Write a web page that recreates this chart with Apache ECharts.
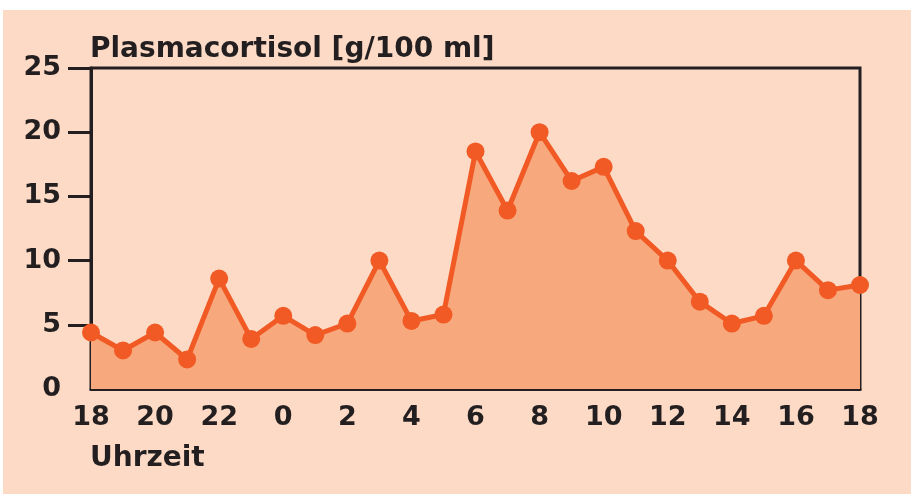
<!DOCTYPE html>
<html>
<head>
<meta charset="utf-8">
<script src="https://cdn.jsdelivr.net/npm/echarts@6/dist/echarts.min.js"></script>
<style>
  html, body { margin: 0; padding: 0; background: #ffffff; }
  #chart { position: absolute; left: 3px; top: 10px; width: 908px; height: 484px; background: #fddac5; }
</style>
</head>
<body>
<div id="chart"></div>
<script>
// Uhrzeit (Stunden), 18 Uhr bis 18 Uhr am Folgetag
const hours = ['18', '19', '20', '21', '22', '23', '0', '1', '2', '3', '4', '5', '6',
  '7', '8', '9', '10', '11', '12', '13', '14', '15', '16', '17', '18']
// Plasmacortisol [g/100 ml]
const cortisol = [4.4, 3.0, 4.4, 2.3, 8.6, 3.9, 5.7, 4.2, 5.1, 10.0, 5.3, 5.8, 18.5,
  13.9, 20.0, 16.2, 17.3, 12.3, 10.0, 6.8, 5.1, 5.7, 10.0, 7.7, 8.1]
const yTicks = [0, 5, 10, 15, 20, 25]

const ink = '#231f20'
const font = 'DejaVu Sans'
const fs = 27

const chart = echarts.init(document.getElementById('chart'))

const option = {
  animation: false,
  title: {
    text: 'Plasmacortisol [g/100 ml]',
    left: 82,
    top: 21,
    textStyle: { fontFamily: font, fontWeight: 'bold', fontSize: 28, color: ink }
  },
  graphic: [{
    type: 'text',
    left: 87,
    top: 435,
    style: { text: 'Uhrzeit', fontFamily: font, fontWeight: 'bold', fontSize: 28, fill: ink }
  }],
  grid: {
    left: 88,
    right: 51,
    top: 58,
    bottom: 105,
    show: true,
    borderColor: ink,
    borderWidth: 3,
    backgroundColor: 'transparent'
  },
  xAxis: {
    type: 'category',
    data: hours,
    boundaryGap: false,
    axisLine: { lineStyle: { color: ink, width: 3 } },
    axisTick: { show: false },
    axisLabel: {
      interval: 1,
      margin: 15,
      fontFamily: font,
      fontWeight: 'bold',
      fontSize: fs,
      color: ink
    },
    splitLine: { show: false }
  },
  yAxis: {
    type: 'value',
    min: yTicks[0],
    max: yTicks[yTicks.length - 1],
    interval: 5,
    axisLine: { show: true, lineStyle: { color: ink, width: 3 } },
    axisTick: {
      show: true,
      length: 23,
      customValues: yTicks.slice(1),
      lineStyle: { color: ink, width: 3 }
    },
    axisLabel: {
      margin: 30,
      fontFamily: font,
      fontWeight: 'bold',
      fontSize: fs,
      color: ink
    },
    splitLine: { show: false }
  },
  series: [{
    type: 'line',
    data: cortisol,
    symbol: 'circle',
    symbolSize: 18,
    lineStyle: { color: '#f15a24', width: 5 },
    itemStyle: { color: '#f15a24' },
    areaStyle: { color: '#f7a87d', opacity: 1 },
    z: 1
  }]
}

chart.setOption(option)
window.addEventListener('resize', function () {
  chart.resize()
})
</script>
</body>
</html>
